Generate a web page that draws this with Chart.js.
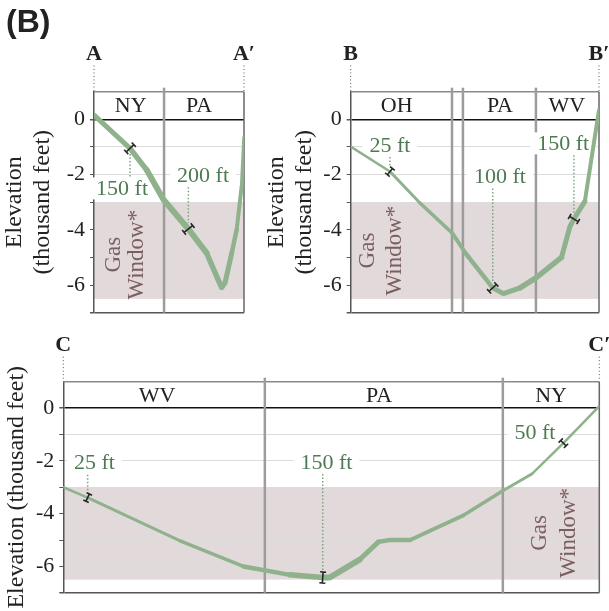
<!DOCTYPE html>
<html>
<head>
<meta charset="utf-8">
<script src="https://cdn.jsdelivr.net/npm/chart.js@4.4.1/dist/chart.umd.min.js"></script>
<style>
  body { margin: 0; background: #fff; }
  #wrap { position: relative; width: 609px; height: 611px; overflow: hidden; }
  #wrap canvas { position: absolute; left: 0; top: 0; }
  #tag { position: absolute; left: 6px; top: 3px; font: bold 32px "Liberation Sans", Arial, sans-serif; color: #222; }
</style>
</head>
<body>
<div id="wrap">
  <canvas id="panelA" width="609" height="611"></canvas>
  <canvas id="panelB" width="609" height="611"></canvas>
  <canvas id="panelC" width="609" height="611"></canvas>
  <div id="tag">(B)</div>
</div>
<script>
// elevation ticks (thousand feet), labelled every 2
const yTickLabels = [0, -2, -4, -6];
const gasTop = -3, gasBottom = -6.5;

// section A–A′ (distance along section in %, elevation in thousand feet, drawn thickness)
const distA = [0, 24, 35.1, 46.4, 62.9, 75.1, 81.8, 85.1, 87.3, 91.8, 95.1, 98.4, 100];
const elevA = [0.15, -1.05, -1.83, -2.91, -3.97, -4.84, -5.69, -6.08, -5.93, -4.85, -4.0, -2.44, -0.65];
const widthA = [5, 5.5, 6, 6, 6, 5.5, 5.5, 5, 5, 4.5, 4, 3.5, 3];
const statesA = ['NY', 'PA'];
const stateXA = [24.5, 70];
const bordersA = [46.7];
const noteTextA = ['150 ft', '200 ft'];
const noteXA = [18.7, 72.7];
const noteYA = [-2.5, -2.02];
const notePtA = [1, 4];

// section B–B′
const distB = [0, 15.8, 27.9, 40.9, 46.7, 57.2, 61.5, 68.2, 74.6, 84.9, 88.3, 89.9, 94.3, 100];
const elevB = [-0.99, -1.89, -3.03, -4.12, -4.9, -6.1, -6.31, -6.1, -5.74, -5.0, -3.88, -3.61, -2.97, 0.34];
const widthB = [2.5, 3, 3.5, 4, 4.5, 5, 5, 5.5, 5.5, 5, 5, 5, 4];
const statesB = ['OH', 'PA', 'WV'];
const stateXB = [18.5, 60.1, 87];
const bordersB = [40.8, 45.2, 74.6];
const noteTextB = ['25 ft', '100 ft', '150 ft'];
const noteXB = [15.8, 60.1, 85.6];
const noteYB = [-0.93, -2.07, -0.87];
const notePtB = [1, 5, 11];

// section C–C′
const distC = [0, 4.55, 21.8, 33.6, 42.3, 48.4, 49.7, 55.3, 58.8, 60.9, 64.7, 74.6, 82.0, 87.4, 93.3, 100];
const elevC = [-3.0, -3.39, -5.03, -6.0, -6.32, -6.42, -6.42, -5.74, -5.07, -5.0, -5.0, -4.07, -3.13, -2.5, -1.33, 0.07];
const widthC = [2.5, 3, 3.5, 4.5, 5.5, 6, 6, 5, 4.5, 4.5, 4, 3.5, 3, 2.5, 2.5];
const statesC = ['WV', 'PA', 'NY'];
const stateXC = [17.5, 58.9, 91];
const bordersC = [37.6, 82.0];
const noteTextC = ['25 ft', '150 ft', '50 ft'];
const noteXC = [5.8, 49.1, 88];
const noteYC = [-2.07, -2.04, -0.93];
const notePtC = [1, 5, 14];

const SERIF = '"Liberation Serif", "Times New Roman", serif';
const LINE = '#8fb28d';
const NOTE = '#4d7a52';
const GAS = '#e2d9da';
const GAS_TEXT = '#7b5e60';

const sectionPlugin = {
  id: 'section',
  beforeDraw(chart, args, o) {
    const { ctx, chartArea: a, scales: { y } } = chart;
    ctx.save();
    ctx.fillStyle = GAS;
    const t = y.getPixelForValue(gasTop), b = y.getPixelForValue(gasBottom);
    ctx.fillRect(a.left, t, a.right - a.left, b - t);
    ctx.restore();
  },
  beforeDatasetsDraw(chart, args, o) {
    const { ctx, chartArea: a, scales: { x, y } } = chart;
    ctx.save();
    // header box top and right edge
    ctx.strokeStyle = '#8a8a8a';
    ctx.lineWidth = 1.5;
    ctx.beginPath();
    ctx.moveTo(a.left, a.top); ctx.lineTo(a.right, a.top);
    ctx.stroke();
    ctx.strokeStyle = '#666';
    ctx.beginPath();
    ctx.moveTo(a.right, a.top); ctx.lineTo(a.right, a.bottom);
    ctx.stroke();
    // state borders
    ctx.strokeStyle = '#9c9c9c';
    ctx.lineWidth = 2.5;
    o.borders.forEach(v => {
      const px = x.getPixelForValue(v);
      ctx.beginPath();
      ctx.moveTo(px, a.top - 4); ctx.lineTo(px, a.bottom);
      ctx.stroke();
    });
    // state names
    ctx.fillStyle = '#222';
    ctx.font = '22px ' + SERIF;
    ctx.textAlign = 'center';
    ctx.textBaseline = 'middle';
    o.states.forEach((s, i) => ctx.fillText(s, x.getPixelForValue(o.stateX[i]), y.getPixelForValue(0.5) + 1));
    // gas window label
    ctx.save();
    ctx.translate(x.getPixelForValue(o.gasX), y.getPixelForValue(o.gasY));
    ctx.rotate(-Math.PI / 2);
    ctx.fillStyle = GAS_TEXT;
    ctx.font = '23px ' + SERIF;
    ctx.fillText('Gas', 0, -o.gasGap / 2);
    ctx.fillText('Window*', 0, o.gasGap / 2);
    ctx.restore();
    // label backgrounds and leaders
    const pts = chart.getDatasetMeta(0).data;
    ctx.font = '22px ' + SERIF;
    o.noteText.forEach((s, i) => {
      const tx = x.getPixelForValue(o.noteX[i]), ty = y.getPixelForValue(o.noteY[i]);
      const w = ctx.measureText(s).width;
      ctx.fillStyle = '#fff';
      ctx.fillRect(tx - w / 2 - 7, ty - 11, w + 14, 22);
      const p = pts[o.notePt[i]];
      const h = o.widths[Math.min(o.notePt[i], o.widths.length - 1)] / 2 + 3;
      let y0, y1;
      if (ty < p.y) { y0 = ty + 12; y1 = p.y - h; } else { y0 = p.y + h; y1 = ty - 12; }
      if (y1 > y0) {
        ctx.strokeStyle = '#7ea381';
        ctx.lineWidth = 1.5;
        ctx.setLineDash([1.5, 2]);
        ctx.beginPath();
        ctx.moveTo(p.x, y0); ctx.lineTo(p.x, y1);
        ctx.stroke();
        ctx.setLineDash([]);
      }
    });
    ctx.restore();
  },
  afterDatasetsDraw(chart, args, o) {
    const { ctx, scales: { x, y } } = chart;
    const pts = chart.getDatasetMeta(0).data;
    ctx.save();
    ctx.font = '22px ' + SERIF;
    ctx.textAlign = 'center';
    ctx.textBaseline = 'middle';
    ctx.fillStyle = NOTE;
    o.noteText.forEach((s, i) => ctx.fillText(s, x.getPixelForValue(o.noteX[i]), y.getPixelForValue(o.noteY[i]) + 1));
    // thickness markers across the line
    ctx.strokeStyle = '#262626';
    ctx.lineWidth = 1.6;
    o.notePt.forEach(k => {
      const p0 = pts[Math.max(k - 1, 0)], p1 = pts[k], p2 = pts[Math.min(k + 1, pts.length - 1)];
      const dx = p2.x - p0.x, dy = p2.y - p0.y, len = Math.hypot(dx, dy);
      const ux = dx / len, uy = dy / len, nx = -uy, ny = ux;
      const h = o.widths[Math.min(k, o.widths.length - 1)] / 2 + 2.5, c = 3;
      ctx.beginPath();
      ctx.moveTo(p1.x - nx * h, p1.y - ny * h); ctx.lineTo(p1.x + nx * h, p1.y + ny * h);
      [-1, 1].forEach(s => {
        const ex = p1.x + nx * h * s, ey = p1.y + ny * h * s;
        ctx.moveTo(ex - ux * c, ey - uy * c); ctx.lineTo(ex + ux * c, ey + uy * c);
      });
      ctx.stroke();
    });
    ctx.restore();
  },
  afterDraw(chart, args, o) {
    const { ctx, scales: { x, y } } = chart;
    ctx.save();
    ctx.font = 'bold 22px ' + SERIF;
    ctx.fillStyle = '#222';
    ctx.textAlign = 'center';
    ctx.textBaseline = 'middle';
    ctx.strokeStyle = '#555';
    ctx.lineWidth = 1;
    ctx.setLineDash([1, 2.5]);
    o.ends.forEach((s, i) => {
      const px = x.getPixelForValue(i === 0 ? 0 : 100);
      ctx.fillText(s, px, y.getPixelForValue(2.37));
      ctx.beginPath();
      ctx.moveTo(px, y.getPixelForValue(1.95)); ctx.lineTo(px, y.getPixelForValue(1.02));
      ctx.stroke();
    });
    ctx.restore();
  }
};

function makePanel(id, dist, elev, widths, opts) {
  return new Chart(document.getElementById(id), {
    type: 'line',
    data: {
      datasets: [{
        data: dist.map((d, i) => ({ x: d, y: elev[i] })),
        borderColor: LINE,
        borderWidth: 4,
        borderCapStyle: 'round',
        borderJoinStyle: 'round',
        pointRadius: 0,
        tension: 0,
        segment: { borderWidth: c => widths[c.p0DataIndex] }
      }]
    },
    options: {
      responsive: false,
      animation: false,
      devicePixelRatio: 1,
      layout: { padding: opts.padding },
      plugins: {
        legend: { display: false },
        tooltip: { enabled: false },
        section: Object.assign({ widths }, opts.section)
      },
      scales: {
        x: { type: 'linear', min: 0, max: 100, display: false },
        y: {
          min: -7, max: 1,
          afterFit: s => { s.width = opts.axisWidth; },
          ticks: {
            stepSize: 1,
            autoSkip: false,
            padding: 5,
            color: '#222',
            font: { family: SERIF, size: 22 },
            callback: v => yTickLabels.includes(v) ? String(v) : ''
          },
          grid: {
            tickLength: 4,
            color: c => c.tick.value === 0 ? '#111' : c.tick.value === 1 ? 'rgba(0,0,0,0)' : c.tick.value === -7 ? '#555' : '#dcdcdc',
            tickColor: c => c.tick.value === 1 ? 'rgba(0,0,0,0)' : '#555',
            lineWidth: c => (c.tick.value === 0 || c.tick.value === -7) ? 1.5 : 1
          },
          border: { color: '#555', width: 1.5 },
          title: {
            display: true,
            text: opts.title,
            color: '#222',
            font: { family: SERIF, size: 24, lineHeight: 1.15 },
            padding: { top: opts.titlePad, bottom: 0 }
          }
        }
      }
    },
    plugins: [sectionPlugin]
  });
}

makePanel('panelA', distA, elevA, widthA, {
  padding: { left: 0, top: 91.7, right: 609 - 244, bottom: 611 - 312.7 },
  axisWidth: 94,
  title: ['Elevation', '(thousand feet)'],
  titlePad: 1,
  section: { borders: bordersA, states: statesA, stateX: stateXA, noteText: noteTextA, noteX: noteXA, noteY: noteYA, notePt: notePtA,
             gasX: 21.3, gasY: -4.9, gasGap: 23, ends: ['A', 'A\u2032'] }
});

makePanel('panelB', distB, elevB, widthB, {
  padding: { left: 262, top: 91.7, right: 10, bottom: 611 - 312.7 },
  axisWidth: 350.7 - 262,
  title: ['Elevation', '(thousand feet)'],
  titlePad: 1,
  section: { borders: bordersB, states: statesB, stateX: stateXB, noteText: noteTextB, noteX: noteXB, noteY: noteYB, notePt: notePtB,
             gasX: 12.2, gasY: -4.75, gasGap: 27, ends: ['B', 'B\u2032'] }
});

makePanel('panelC', distC, elevC, widthC, {
  padding: { left: 0, top: 381.7, right: 609 - 599.3, bottom: 611 - 602.7 },
  axisWidth: 63.3,
  title: 'Elevation (thousand feet)',
  titlePad: 3,
  section: { borders: bordersC, states: statesC, stateX: stateXC, noteText: noteTextC, noteX: noteXC, noteY: noteYC, notePt: notePtC,
             gasX: 91.7, gasY: -4.73, gasGap: 29, ends: ['C', 'C\u2032'] }
});
</script>
</body>
</html>
